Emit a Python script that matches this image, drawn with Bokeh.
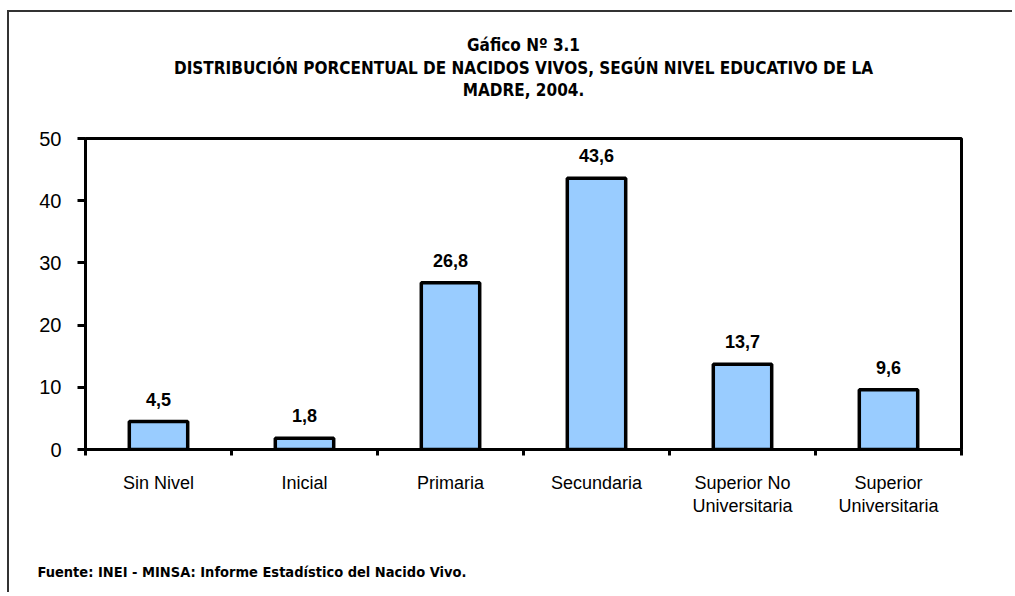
from bokeh.plotting import figure
from bokeh.models import Range1d, FixedTicker, LabelSet, ColumnDataSource, Title
from bokeh.core.properties import value
from bokeh.embed import file_html
from bokeh.resources import INLINE

categories = ["Sin Nivel", "Inicial", "Primaria", "Secundaria",
              "Superior No\nUniversitaria", "Superior\nUniversitaria"]
values = [4.5, 1.8, 26.8, 43.6, 13.7, 9.6]
value_labels = ["4,5", "1,8", "26,8", "43,6", "13,7", "9,6"]
y_ticks = [0, 10, 20, 30, 40, 50]

title_lines = ["Gáfico Nº 3.1",
               "DISTRIBUCIÓN PORCENTUAL DE NACIDOS VIVOS, SEGÚN NIVEL EDUCATIVO DE LA",
               "MADRE, 2004."]
footnote = "Fuente: INEI - MINSA:  Informe Estadístico  del Nacido  Vivo."

COND = "DejaVu Sans Condensed"
REG = "Liberation Sans"

n = len(categories)
xs = [i + 0.5 for i in range(n)]

p = figure(width=1005, height=582, output_backend="svg", toolbar_location=None,
           x_range=Range1d(0, n), y_range=Range1d(0, 50),
           min_border_left=76, min_border_top=126, min_border_right=53,
           min_border_bottom=145)
p.styles = {"margin-left": "7px", "margin-top": "10px",
            "border-left": "2px solid #333333", "border-top": "2px solid #333333"}
p.grid.visible = False
p.background_fill_color = "white"
p.border_fill_color = "white"
p.outline_line_color = "black"
p.outline_line_width = 3

src = ColumnDataSource(dict(x=xs, top=values, lab=value_labels))
p.vbar(x="x", top="top", width=0.4, source=src, fill_color="#99ccff",
       line_color="black", line_width=3.5)

p.add_layout(LabelSet(x="x", y="top", text="lab", source=src, y_offset=16,
                      text_align="center", text_baseline="bottom",
                      text_font=value(REG), text_font_style="bold",
                      text_font_size="18px", text_color="black"))

# y axis
ya = p.yaxis[0]
ya.ticker = FixedTicker(ticks=y_ticks, minor_ticks=[])
ya.axis_line_width = 3
ya.major_tick_line_width = 3
ya.major_tick_out = 8
ya.major_tick_in = 0
ya.minor_tick_line_color = None
ya.major_label_standoff = 16
ya.major_label_text_font = REG
ya.major_label_text_font_size = "20px"
ya.major_label_text_color = "black"

# x axis
xa = p.xaxis[0]
xa.ticker = FixedTicker(ticks=xs, minor_ticks=list(range(n + 1)))
xa.major_label_overrides = {x: c for x, c in zip(xs, categories)}
xa.axis_line_width = 3
xa.major_tick_line_color = None
xa.major_tick_out = 0
xa.major_tick_in = 0
xa.minor_tick_line_width = 3
xa.minor_tick_out = 6
xa.minor_tick_in = 0
xa.major_label_standoff = 17
xa.major_label_text_font = REG
xa.major_label_text_font_size = "18px"
xa.major_label_text_color = "black"
xa.major_label_text_line_height = 1.15

# title: spacer first (closest to frame), then lines from bottom to top
p.add_layout(Title(text=" ", standoff=17, text_font=COND,
                   text_font_size="17px"), "above")
for txt, sd in zip(reversed(title_lines), [0, 0, 2]):
    p.add_layout(Title(text=txt, align="center", standoff=sd,
                       text_font=COND, text_font_style="bold",
                       text_font_size="17px", text_color="black"), "above")

# footnote: spacer then text, below the x axis
p.add_layout(Title(text=" ", standoff=23, text_font=COND,
                   text_font_size="15px"), "below")
p.add_layout(Title(text=footnote, align="left", offset=-48, standoff=0,
                   text_font=COND, text_font_style="bold",
                   text_font_size="14.5px", text_color="black"), "below")

open("out.html", "w").write(file_html(p, INLINE))
